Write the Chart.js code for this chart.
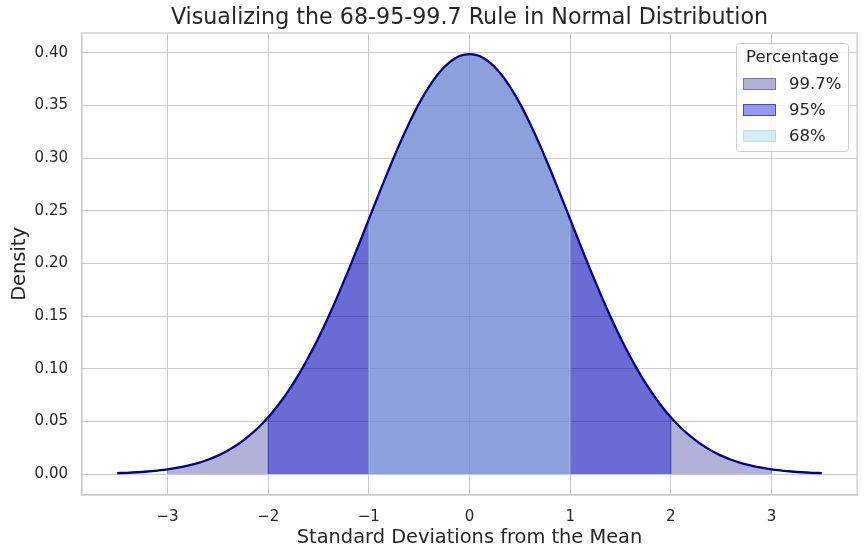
<!DOCTYPE html>
<html>
<head>
<meta charset="utf-8">
<script src="https://cdn.jsdelivr.net/npm/chart.js@4.4.1/dist/chart.umd.min.js"></script>
<style>
  html, body { margin: 0; padding: 0; background: #ffffff; }
  #wrap { width: 866px; height: 559px; }
</style>
</head>
<body>
<div id="wrap"><canvas id="normalChart" width="866" height="559"></canvas></div>
<script>
// Curve samples (standard deviations -> density)
const xValues = [
  -3.5, -3.4, -3.3, -3.2, -3.1, -3.0, -2.9, -2.8, -2.7, -2.6, -2.5, -2.4,
  -2.3, -2.2, -2.1, -2.0, -1.9, -1.8, -1.7, -1.6, -1.5, -1.4, -1.3, -1.2,
  -1.1, -1.0, -0.9, -0.8, -0.7, -0.6, -0.5, -0.4, -0.3, -0.2, -0.1, 0.0,
  0.1, 0.2, 0.3, 0.4, 0.5, 0.6, 0.7, 0.8, 0.9, 1.0, 1.1, 1.2,
  1.3, 1.4, 1.5, 1.6, 1.7, 1.8, 1.9, 2.0, 2.1, 2.2, 2.3, 2.4,
  2.5, 2.6, 2.7, 2.8, 2.9, 3.0, 3.1, 3.2, 3.3, 3.4, 3.5
];
const density = [
  0.0009, 0.0012, 0.0017, 0.0024, 0.0033, 0.0044, 0.0060, 0.0079, 0.0104, 0.0136, 0.0175, 0.0224,
  0.0283, 0.0355, 0.0440, 0.0540, 0.0656, 0.0790, 0.0940, 0.1109, 0.1295, 0.1497, 0.1714, 0.1942,
  0.2179, 0.2420, 0.2661, 0.2897, 0.3123, 0.3332, 0.3521, 0.3683, 0.3814, 0.3910, 0.3970, 0.3989,
  0.3970, 0.3910, 0.3814, 0.3683, 0.3521, 0.3332, 0.3123, 0.2897, 0.2661, 0.2420, 0.2179, 0.1942,
  0.1714, 0.1497, 0.1295, 0.1109, 0.0940, 0.0790, 0.0656, 0.0540, 0.0440, 0.0355, 0.0283, 0.0224,
  0.0175, 0.0136, 0.0104, 0.0079, 0.0060, 0.0044, 0.0033, 0.0024, 0.0017, 0.0012, 0.0009
];

// Shaded bands
const bandLabels = ['99.7%', '95%', '68%'];
const bandLimits = [3, 2, 1];

// Axis ticks
const xTickValues = [-3, -2, -1, 0, 1, 2, 3];
const xTickLabels = ['\u22123', '\u22122', '\u22121', '0', '1', '2', '3'];
const yTickValues = [0, 0.05, 0.10, 0.15, 0.20, 0.25, 0.30, 0.35, 0.40];
const yTickLabels = ['0.00', '0.05', '0.10', '0.15', '0.20', '0.25', '0.30', '0.35', '0.40'];

const CHART_TITLE = 'Visualizing the 68-95-99.7 Rule in Normal Distribution';

const BAND_STYLE = [
  { fill: 'rgba(0, 0, 128, 0.3)', edge: 'rgba(0, 0, 128, 0.35)' },
  { fill: 'rgba(0, 0, 205, 0.4)', edge: 'rgba(0, 0, 205, 0.55)' },
  { fill: 'rgba(173, 216, 230, 0.5)', edge: 'rgba(173, 216, 230, 0.7)' }
];
const TEXT = '#262626';
const GRID = '#cccccc';
const FONT = "'DejaVu Sans', sans-serif";

function bandPoints(limit) {
  const pts = [{ x: -limit, y: 0 }];
  xValues.forEach((x, i) => {
    if (x >= -limit - 1e-9 && x <= limit + 1e-9) pts.push({ x: x, y: density[i] });
  });
  pts.push({ x: limit, y: 0 });
  return pts;
}

const datasets = [
  {
    label: 'curve',
    data: xValues.map((x, i) => ({ x: x, y: density[i] })),
    borderColor: '#00008b',
    borderWidth: 2.3,
    fill: false,
    pointRadius: 0,
    cubicInterpolationMode: 'monotone',
    order: 0
  }
];
bandLabels.forEach((label, k) => {
  datasets.push({
    label: label,
    data: bandPoints(bandLimits[k]),
    borderColor: BAND_STYLE[k].edge,
    backgroundColor: BAND_STYLE[k].fill,
    borderWidth: 1,
    fill: 'origin',
    pointRadius: 0,
    cubicInterpolationMode: 'monotone',
    order: 3 - k
  });
});

// Box around the plot area (top and right spines)
const framePlugin = {
  id: 'frame',
  afterDatasetsDraw(chart) {
    const { ctx, chartArea: a } = chart;
    ctx.save();
    ctx.strokeStyle = GRID;
    ctx.lineWidth = 1.25;
    ctx.strokeRect(a.left, a.top, a.right - a.left, a.bottom - a.top);
    ctx.restore();
  }
};

// Title centred over the plot area (matplotlib style), not the whole canvas
const axesTitlePlugin = {
  id: 'axesTitle',
  afterDraw(chart) {
    const { ctx, chartArea: a } = chart;
    ctx.save();
    ctx.fillStyle = TEXT;
    ctx.font = '22.2px ' + FONT;
    ctx.textAlign = 'center';
    ctx.textBaseline = 'middle';
    ctx.fillText(CHART_TITLE, (a.left + a.right) / 2, 18);
    ctx.restore();
  }
};

// Legend box in upper right, like the matplotlib one
const boxLegendPlugin = {
  id: 'boxLegend',
  afterDraw(chart) {
    const { ctx, chartArea: a } = chart;
    const w = 112, h = 108;
    const x0 = a.right - 9 - w, y0 = a.top + 10;
    ctx.save();
    ctx.fillStyle = 'rgba(255,255,255,0.8)';
    ctx.strokeStyle = GRID;
    ctx.lineWidth = 1;
    ctx.beginPath();
    ctx.roundRect(x0 + 0.5, y0 + 0.5, w, h, 3);
    ctx.fill();
    ctx.stroke();

    ctx.fillStyle = TEXT;
    ctx.font = '16.5px ' + FONT;
    ctx.textAlign = 'center';
    ctx.textBaseline = 'middle';
    ctx.fillText('Percentage', x0 + w / 2 + 0.5, y0 + 15);

    ctx.textAlign = 'left';
    bandLabels.forEach((label, k) => {
      const cy = y0 + 41 + k * 26;
      ctx.fillStyle = BAND_STYLE[k].fill;
      ctx.fillRect(x0 + 7, cy - 6, 33, 12);
      ctx.strokeStyle = BAND_STYLE[k].edge;
      ctx.strokeRect(x0 + 7.5, cy - 5.5, 32, 11);
      ctx.fillStyle = TEXT;
      ctx.fillText(label, x0 + 53, cy + 1);
    });
    ctx.restore();
  }
};

const ctx = document.getElementById('normalChart');
new Chart(ctx, {
  type: 'line',
  data: { datasets: datasets },
  options: {
    responsive: false,
    animation: false,
    layout: { padding: { left: 0, right: 9, top: 33, bottom: 0 } },
    plugins: {
      legend: { display: false },
      tooltip: { enabled: false },
      title: { display: false }
    },
    scales: {
      x: {
        type: 'linear',
        min: -3.85,
        max: 3.85,
        afterBuildTicks: (scale) => { scale.ticks = xTickValues.map(v => ({ value: v })); },
        afterFit: (scale) => { scale.height = 64; },
        ticks: {
          color: TEXT,
          font: { family: FONT, size: 15 },
          padding: 13,
          callback: (v) => xTickLabels[xTickValues.indexOf(v)]
        },
        grid: { color: GRID, lineWidth: 1, drawTicks: false },
        border: { display: true, color: GRID, width: 1.25 },
        title: {
          display: true,
          text: 'Standard Deviations from the Mean',
          color: TEXT,
          font: { family: FONT, size: 19.4 },
          padding: { top: 0, bottom: 9.5 }
        }
      },
      y: {
        type: 'linear',
        min: -0.0199,
        max: 0.4189,
        afterBuildTicks: (scale) => { scale.ticks = yTickValues.map(v => ({ value: v })); },
        afterFit: (scale) => { scale.width = 82; },
        ticks: {
          color: TEXT,
          font: { family: FONT, size: 15 },
          padding: 14,
          callback: (v) => yTickLabels[yTickValues.indexOf(v)]
        },
        grid: { color: GRID, lineWidth: 1, drawTicks: false },
        border: { display: true, color: GRID, width: 1.25 },
        title: {
          display: true,
          text: 'Density',
          color: TEXT,
          font: { family: FONT, size: 19.4 },
          padding: { top: 8.5, bottom: 0 }
        }
      }
    }
  },
  plugins: [framePlugin, axesTitlePlugin, boxLegendPlugin]
});
</script>
</body>
</html>
